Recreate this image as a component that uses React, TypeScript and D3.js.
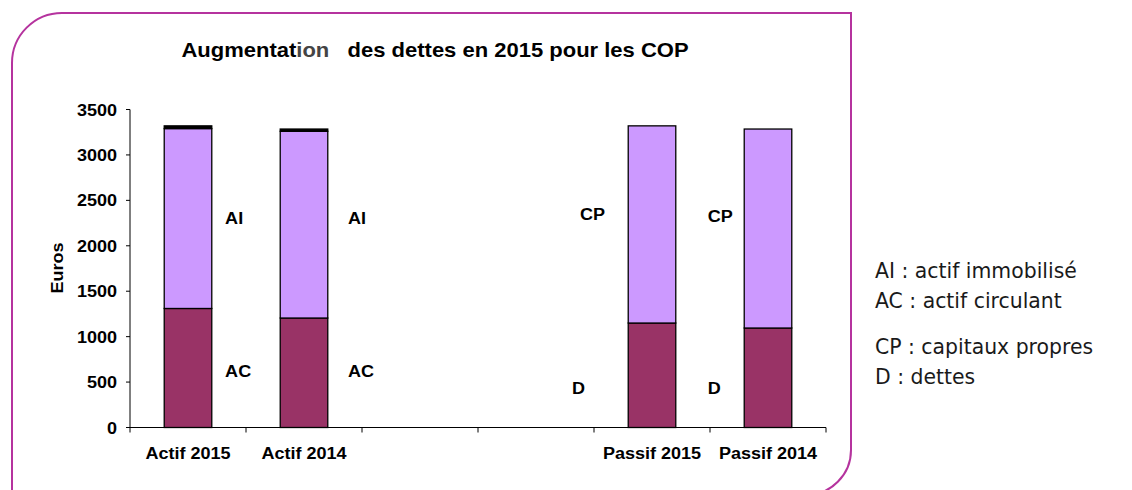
import * as d3 from "d3"

const categories = ["Actif 2015", "Actif 2014", " ", "  ", "Passif 2015", "Passif 2014"]
// bottom segment (AC / D), middle segment (AI / CP), thin top segment
const bottomValues = [1310, 1205, 0, 0, 1150, 1095]
const middleValues = [1980, 2055, 0, 0, 2170, 2190]
const topValues = [30, 25, 0, 0, 0, 0]
const yTicks = [0, 500, 1000, 1500, 2000, 2500, 3000, 3500]

// annotation labels: text, category index, position along band (fraction), value height
const labelTexts = ["AI", "AC", "AI", "AC", "CP", "D", "CP", "D"]
const labelCats = [0, 0, 1, 1, 4, 4, 5, 5]
const labelFrac = [0.82, 0.82, 0.88, 0.88, -0.12, -0.19, -0.02, -0.02]
const labelVals = [2306, 622, 2306, 622, 2350, 435, 2330, 435]

const legendLines = ["AI : actif immobilisé", "AC : actif circulant", "", "CP : capitaux propres", "D : dettes"]
const legendGaps = [0, 30, 0, 46, 30]

const W = 1132
const H = 490
const SX = 1.1
const FONT = "'Liberation Sans', Arial, sans-serif"
const DARK = "#993366"
const LIGHT = "#CC99FF"
const BORDER = "#b5339e"

export default function App() {
  const x = d3.scaleBand().domain(categories).range([130, 826]).padding(0)
  const y = d3.scaleLinear().domain([0, 3500]).range([427.5, 109.5])
  const bw = x.bandwidth() * 0.41

  const stack = categories.map((c, i) => {
    const b = bottomValues[i]
    const m = middleValues[i]
    const t = topValues[i]
    return [
      { y0: 0, y1: b, fill: DARK },
      { y0: b, y1: b + m, fill: LIGHT },
      { y0: b + m, y1: b + m + t, fill: "#000" },
    ].filter((s) => s.y1 > s.y0)
  })

  const boundaries = categories.map((c) => x(c)!).concat([x.range()[1]])

  const txt = (
    key: string | number,
    tx: number,
    ty: number,
    s: string,
    anchor: string,
    size = 16.4,
    rotate = 0,
  ) => (
    <text
      key={key}
      transform={`translate(${tx},${ty}) rotate(${rotate}) scale(${SX},1)`}
      textAnchor={anchor}
      fontFamily={FONT}
      fontWeight="bold"
      fontSize={size}
      fill="#000"
    >
      {s}
    </text>
  )

  let ly = 278
  const legendY = legendGaps.map((g) => (ly += g))

  return (
    <svg
      width={W}
      height={H}
      style={{ position: "absolute", left: 0, top: 0, background: "#fff" }}
    >
      <rect width={W} height={H} fill="#fff" />
      <path
        d={`M12,${H + 5} L12,63 A50,50 0 0 1 62,13 L851,13 L851,450 A45,45 0 0 1 806,495`}
        fill="none"
        stroke={BORDER}
        strokeWidth={2}
      />

      <text
        transform={`translate(435,57) scale(${SX},1)`}
        textAnchor="middle"
        fontFamily={FONT}
        fontWeight="bold"
        fontSize={20}
        style={{ whiteSpace: "pre" }}
      >
        Augmentat<tspan fill="#444">ion</tspan>{"   des dettes en 2015 pour les COP"}
      </text>

      {categories.map((c, i) =>
        stack[i].map((s, j) => (
          <rect
            key={`${i}-${j}`}
            x={x(c)! + (x.bandwidth() - bw) / 2}
            y={y(s.y1)}
            width={bw}
            height={y(s.y0) - y(s.y1)}
            fill={s.fill}
            stroke="#000"
            strokeWidth={1.3}
          />
        )),
      )}

      {/* y axis */}
      <line x1={130} x2={130} y1={y(3500)} y2={y(0)} stroke="#000" />
      {yTicks.map((t) => (
        <g key={t}>
          <line x1={126} x2={130} y1={y(t)} y2={y(t)} stroke="#000" />
          {txt(`yt${t}`, 117, y(t) + 6, String(t), "end")}
        </g>
      ))}
      {txt("ylab", 63, 268, "Euros", "middle", 16.4, -90)}

      {/* x axis */}
      <line x1={130} x2={826} y1={y(0)} y2={y(0)} stroke="#000" />
      {boundaries.map((bx, i) => (
        <line key={i} x1={bx} x2={bx} y1={y(0)} y2={y(0) + 5} stroke="#000" />
      ))}
      {categories.map((c, i) => txt(`xl${i}`, x(c)! + x.bandwidth() / 2, 459, c.trim(), "middle"))}

      {labelTexts.map((l, i) =>
        txt(
          `lab${i}`,
          x(categories[labelCats[i]])! + x.bandwidth() * labelFrac[i],
          y(labelVals[i]) + 6,
          l,
          "start",
        ),
      )}

      {legendLines.map((l, i) => (
        <text
          key={`lg${i}`}
          x={875}
          y={legendY[i]}
          fontFamily="'DejaVu Sans', sans-serif"
          fontSize={20.4}
          fill="#1a1a1a"
        >
          {l}
        </text>
      ))}
    </svg>
  )
}
